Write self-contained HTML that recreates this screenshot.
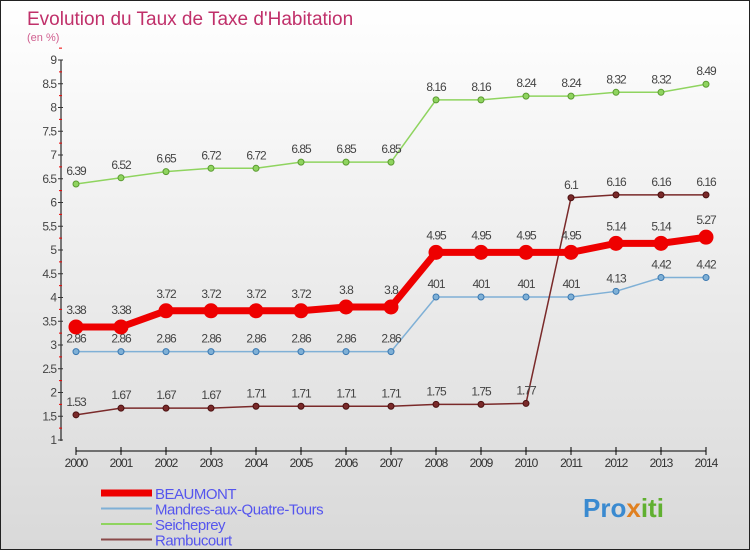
<!DOCTYPE html>
<html><head><meta charset="utf-8"><style>
body{margin:0}
#c{width:748px;height:548px;border:1px solid #222;background:linear-gradient(#fff,#d9d9d9);position:relative;font-family:"Liberation Sans",sans-serif;overflow:hidden}
</style></head><body>
<div id="c">
<svg id="s" width="748" height="548" xmlns="http://www.w3.org/2000/svg"></svg>
</div>
<script>
const years=[2000,2001,2002,2003,2004,2005,2006,2007,2008,2009,2010,2011,2012,2013,2014];
const beaumont=[3.38,3.38,3.72,3.72,3.72,3.72,3.8,3.8,4.95,4.95,4.95,4.95,5.14,5.14,5.27];
const mandres=[2.86,2.86,2.86,2.86,2.86,2.86,2.86,2.86,4.01,4.01,4.01,4.01,4.13,4.42,4.42];
const seicheprey=[6.39,6.52,6.65,6.72,6.72,6.85,6.85,6.85,8.16,8.16,8.24,8.24,8.32,8.32,8.49];
const rambucourt=[1.53,1.67,1.67,1.67,1.71,1.71,1.71,1.71,1.75,1.75,1.77,6.1,6.16,6.16,6.16];
const yTicks=[1,1.5,2,2.5,3,3.5,4,4.5,5,5.5,6,6.5,7,7.5,8,8.5,9];
const NS="http://www.w3.org/2000/svg";
const s=document.getElementById('s');
const X=i=>75+i*45, Y=v=>439-(v-1)*47.5;
function el(t,a,p){const e=document.createElementNS(NS,t);for(const k in a)e.setAttribute(k,a[k]);(p||s).appendChild(e);return e;}
function fmt(v){const t=String(v);return t==='4.01'?'401':t;}
let t=el('text',{x:26,y:24,fill:'#c0306a','font-size':19});t.textContent='Evolution du Taux de Taxe d\'Habitation';

t=el('text',{x:26,y:40,fill:'#d06090','font-size':11});t.textContent='(en %)';

let ax=el('line',{x1:60,y1:59,x2:60,y2:440,stroke:'#000'});

yTicks.forEach(v=>{el('line',{x1:57,x2:62,y1:Y(v),y2:Y(v),stroke:'#333'});
 el('line',{x1:58,x2:61,y1:Y(v+0.25),y2:Y(v+0.25),stroke:'#e00'});
 const l=el('text',{x:55,y:Y(v)+4,'text-anchor':'end','font-size':12,fill:'#444','letter-spacing':'-1'});l.textContent=v;
 });
ax=el('line',{x1:X(0),y1:450,x2:X(14),y2:450,stroke:'#000'});

years.forEach((y,i)=>{el('line',{x1:X(i),x2:X(i),y1:446,y2:454,stroke:'#000'});
 const l=el('text',{x:X(i),y:466,'text-anchor':'middle','font-size':12,fill:'#333','letter-spacing':'-1'});l.textContent=y;
 });
function series(d,col,w,r,name,lc){
 const g=el('g',{});
 el('polyline',{points:d.map((v,i)=>X(i)+','+Y(v)).join(' '),fill:'none',stroke:col,'stroke-width':w},g);
 d.forEach((v,i)=>{const c=el('circle',{cx:X(i),cy:Y(v),r:r,fill:col,stroke:lc,'stroke-width':1},g);
  
  const l=el('text',{x:X(i),y:Y(v)-(r+6),'text-anchor':'middle','font-size':12,fill:'#444','letter-spacing':'-1'},g);l.textContent=fmt(v);
  });}
series(seicheprey,'#8fd45f',1.5,3,'seicheprey-series','#5a9a30');
series(mandres,'#7fb0d6',1.5,3,'mandres-series','#3a78b0');
series(rambucourt,'#7a2a2a',1.5,3,'rambucourt-series','#4a1010');
series(beaumont,'#ee0000',7,7,'beaumont-series','#e00');
const leg=[['BEAUMONT','#ee0000',7],['Mandres-aux-Quatre-Tours','#7fb0d6',2],['Seicheprey','#8fd45f',2],['Rambucourt','#8a4a4a',2]];
leg.forEach((d,i)=>{const y=492+i*15.5;const g=el('g',{});
 
 el('line',{x1:100,x2:151,y1:y,y2:y,stroke:d[1],'stroke-width':d[2]},g);
 const l=el('text',{x:154,y:y+6,'font-size':15,fill:'#5555ee','letter-spacing':'-0.5'},g);l.textContent=d[0];});
const p=el('text',{x:582,y:516,'font-size':26,'font-weight':'bold',fill:'#3a8ad0'});
p.innerHTML='Pro<tspan fill="#e08020">x</tspan><tspan fill="#60b030">iti</tspan>';

</script>
</body></html>
